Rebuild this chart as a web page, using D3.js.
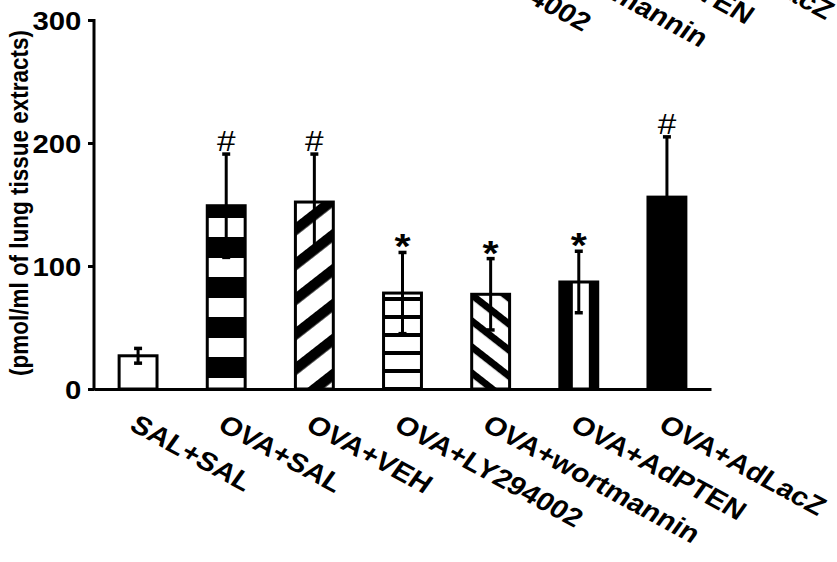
<!DOCTYPE html>
<html>
<head>
<meta charset="utf-8">
<script src="https://cdn.jsdelivr.net/npm/d3@7"></script>
<style>
    html, body { margin: 0; padding: 0; background: #fff; }
    svg { display: block; font-family: 'Liberation Sans', Arial, sans-serif; }
</style>
</head>
<body>
<script>
// data
const categories = ['SAL+SAL', 'OVA+SAL', 'OVA+VEH', 'OVA+LY294002', 'OVA+wortmannin', 'OVA+AdPTEN', 'OVA+AdLacZ'];
const means = [27, 149, 152, 78, 77, 87, 156];
const errors = [6, 42, 39, 33, 29, 25, 49];
const marks = ['', '#', '#', '*', '*', '*', '#'];
const fills = ['white', 'url(#hbands)', 'url(#diagUp)', 'url(#hlines)', 'url(#diagDown)', 'url(#vstripe)', 'black'];
const yTicks = [0, 100, 200, 300];
const yLabel = '(pmol/ml of lung tissue extracts)';

const width = 837, height = 562;
const marginLeft = 94, marginRight = 126, marginTop = 20, marginBottom = 173;
const stretch = 1.15; // the source figure is a bit wider than tall

const svg = d3.select('body').append('svg')
    .attr('width', width)
    .attr('height', height);

const x = d3.scaleBand()
    .domain(categories)
    .range([marginLeft, width - marginRight])
    .paddingInner(0.57)
    .paddingOuter(0.285);

const y = d3.scaleLinear()
    .domain([0, 300])
    .range([height - marginBottom, marginTop]);

const y0 = y(0);
const bw = x.bandwidth();

//----------------------------------------------------------------------------
// fill patterns
const defs = svg.append('defs');

let p = defs.append('pattern').attr('id', 'hbands')
    .attr('patternUnits', 'userSpaceOnUse')
    .attr('x', 0).attr('y', y0 - 32).attr('width', 10).attr('height', 40);
p.append('rect').attr('width', 10).attr('height', 40).attr('fill', 'white');
p.append('rect').attr('width', 10).attr('height', 21).attr('fill', 'black');

p = defs.append('pattern').attr('id', 'hlines')
    .attr('patternUnits', 'userSpaceOnUse')
    .attr('x', 0).attr('y', y0 - 20).attr('width', 10).attr('height', 18);
p.append('rect').attr('width', 10).attr('height', 18).attr('fill', 'white');
p.append('rect').attr('width', 10).attr('height', 4).attr('fill', 'black');

p = defs.append('pattern').attr('id', 'diagUp')
    .attr('patternUnits', 'userSpaceOnUse')
    .attr('width', 10).attr('height', 27.5)
    .attr('patternTransform', 'rotate(-38)');
p.append('rect').attr('width', 10).attr('height', 27.5).attr('fill', 'white');
p.append('rect').attr('width', 10).attr('height', 10.5).attr('fill', 'black');

p = defs.append('pattern').attr('id', 'diagDown')
    .attr('patternUnits', 'userSpaceOnUse')
    .attr('width', 10).attr('height', 20.5)
    .attr('patternTransform', 'rotate(38)');
p.append('rect').attr('width', 10).attr('height', 20.5).attr('fill', 'white');
p.append('rect').attr('width', 10).attr('height', 7).attr('fill', 'black');

p = defs.append('pattern').attr('id', 'vstripe')
    .attr('patternUnits', 'userSpaceOnUse')
    .attr('x', x('OVA+AdPTEN')).attr('y', 0).attr('width', 29).attr('height', 10);
p.append('rect').attr('width', 29).attr('height', 10).attr('fill', 'white');
p.append('rect').attr('width', 13).attr('height', 10).attr('fill', 'black');

//----------------------------------------------------------------------------
// bars
svg.append('g')
    .selectAll('rect')
    .data(categories)
    .join('rect')
    .attr('x', d => x(d))
    .attr('y', (d, i) => y(means[i]))
    .attr('width', bw)
    .attr('height', (d, i) => y0 - y(means[i]))
    .attr('fill', (d, i) => fills[i])
    .attr('stroke', 'black')
    .attr('stroke-width', 3);

// error bars
const eb = svg.append('g')
    .attr('stroke', 'black')
    .attr('stroke-width', 3);

categories.forEach((c, i) => {
    const cx = x(c) + bw / 2;
    const lo = y(means[i] - errors[i]);
    const hi = y(means[i] + errors[i]);
    eb.append('line').attr('x1', cx).attr('x2', cx).attr('y1', lo).attr('y2', hi);
    eb.append('line').attr('x1', cx - 4).attr('x2', cx + 4).attr('y1', lo).attr('y2', lo).attr('stroke-width', 3.5);
    eb.append('line').attr('x1', cx - 4).attr('x2', cx + 4).attr('y1', hi).attr('y2', hi).attr('stroke-width', 3.5);
});

// significance marks
svg.append('g')
    .selectAll('text')
    .data(categories)
    .join('text')
    .attr('transform', (d, i) => {
        const top = y(means[i] + errors[i]);
        const ty = marks[i] === '*' ? top + 6 : top - 3;
        return `translate(${x(d) + bw / 2}, ${ty}) scale(${stretch}, 1)`;
    })
    .attr('text-anchor', 'middle')
    .attr('font-size', (d, i) => marks[i] === '*' ? 36 : 29)
    .attr('font-weight', (d, i) => marks[i] === '*' ? 'bold' : 'normal')
    .text((d, i) => marks[i]);

//----------------------------------------------------------------------------
// axes
const yAxis = d3.axisLeft(y)
    .tickValues(yTicks)
    .tickSize(6)
    .tickSizeOuter(0)
    .tickPadding(5);

const gy = svg.append('g')
    .attr('transform', `translate(${marginLeft}, 0)`)
    .call(yAxis);
gy.select('.domain').attr('stroke-width', 3).attr('d', `M0,${y0 + 1.5}V${marginTop - 1}`);
gy.selectAll('.tick line').attr('stroke-width', 3);
gy.selectAll('.tick text')
    .attr('font-family', "'Liberation Sans', Arial, sans-serif")
    .attr('font-size', 25.5)
    .attr('font-weight', 'bold')
    .attr('fill', 'black')
    .attr('dy', '0.36em')
    .attr('transform', `scale(${stretch}, 1)`);

const xAxis = d3.axisBottom(x).tickSize(0).tickSizeOuter(0);

const gx = svg.append('g')
    .attr('transform', `translate(0, ${y0})`)
    .call(xAxis);
gx.select('.domain').attr('stroke-width', 3);
gx.selectAll('.tick text')
    .attr('font-family', "'Liberation Sans', Arial, sans-serif")
    .attr('font-size', 26)
    .attr('font-weight', 'bold')
    .attr('fill', 'black')
    .attr('text-anchor', 'start')
    .attr('y', 0).attr('dy', 0)
    .attr('transform', `translate(-10, 40) scale(${stretch}, 1) rotate(32)`);

// clipped labels from the panel above
const gTop = svg.append('g')
    .attr('transform', 'translate(8, -496)');
categories.forEach(c => {
    gTop.append('text')
        .attr('transform', `translate(${x(c) + bw / 2 - 10}, ${y0 + 40}) scale(${stretch}, 1) rotate(32)`)
        .attr('font-size', 26)
        .attr('font-weight', 'bold')
        .attr('fill', 'black')
        .text(c);
});

// y axis title
svg.append('text')
    .attr('transform', `translate(27.5, 203) scale(${stretch}, 1) rotate(-90)`)
    .attr('text-anchor', 'middle')
    .attr('font-size', 22.5)
    .attr('font-weight', 'bold')
    .text(yLabel);
</script>
</body>
</html>
